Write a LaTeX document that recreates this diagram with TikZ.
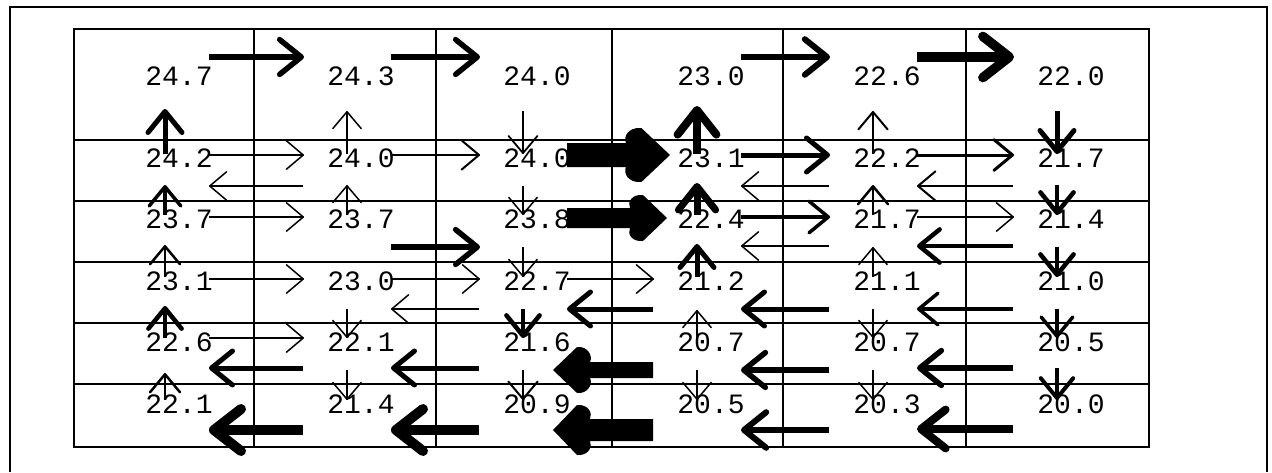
\documentclass[tikz,border=0pt]{standalone}
\usepackage{fontspec}
\setmonofont{Liberation Mono}
\usetikzlibrary{arrows.meta,calc}
% R: row, left col, right col, dy, width
\newcommand\ArR[5]{\draw[arw=#5] ($(L-#1-#2)+(30,#4)$) -- ($(L-#1-#3)+(-57,#4)$);}
\newcommand\ArL[5]{\draw[arw=#5] ($(L-#1-#3)+(-58,#4)$) -- ($(L-#1-#2)+(30,#4)$);}
% U/D: upper row, lower row, col, width, top offset
\newcommand\ArU[5]{\draw[arw=#4] ($(L-#2-#3)+(-14,-4)$) -- ($(L-#1-#3)+(-14,#5)$);}
\newcommand\ArD[5]{\draw[arw=#4] ($(L-#1-#3)+(-14,#5)$) -- ($(L-#2-#3)+(-14,-4)$);}
% big filled arrow: tip position, rotation, shaft half width, head half height, head length, total length
\newcommand\ArBig[6]{%
  \begin{scope}[shift={#1},rotate=#2]
    \fill[black] (0,0) -- (-0.65*#5,-#4)
      .. controls (-#5+2,-#4-1) and (-#5-3,-#3-6) .. (-#5,-#3)
      -- (-#6,-#3) -- (-#6,#3) -- (-#5,#3)
      .. controls (-#5-3,#3+6) and (-#5+2,#4+1) .. (-0.65*#5,#4) -- cycle;
  \end{scope}}
\begin{document}
\begin{tikzpicture}[x=1pt,y=-1pt,
  lab/.style={font=\ttfamily\fontsize{28}{28}\selectfont, inner sep=0pt},
  gridline/.style={line width=2pt},
  arw/.style={line width=#1pt, -{Straight Barb[length=15pt 1.2, width=26pt 1.6, round]}},
]
\useasboundingbox (0,0) rectangle (1272,472);
% outer frame
\draw[line width=1.5pt] (10,472) -- (10,7) -- (1267,7) -- (1267,472);
% grid
\draw[gridline] (74,29) rectangle (1149,447);
\foreach \x in {254,436,612,783,966} \draw[gridline] (\x,29) -- (\x,447);
\foreach \y in {140,201,262,323,384} \draw[gridline] (74,\y) -- (1149,\y);
% labels
\foreach \y/\r/\a/\b/\cc/\d/\e/\f in {
  76/0/24.7/24.3/24.0/23.0/22.6/22.0,
  158/1/24.2/24.0/24.0/23.1/22.2/21.7,
  219/2/23.7/23.7/23.8/22.4/21.7/21.4,
  281/3/23.1/23.0/22.7/21.2/21.1/21.0,
  342/4/22.6/22.1/21.6/20.7/20.7/20.5,
  404/5/22.1/21.4/20.9/20.5/20.3/20.0}{
  \node[lab] (L-\r-0) at (179,\y) {\a};
  \node[lab] (L-\r-1) at (361,\y) {\b};
  \node[lab] (L-\r-2) at (537,\y) {\cc};
  \node[lab] (L-\r-3) at (711,\y) {\d};
  \node[lab] (L-\r-4) at (887,\y) {\e};
  \node[lab] (L-\r-5) at (1071,\y) {\f};
}
% row 0
\ArR{0}{0}{1}{-19}{5.5}
\ArR{0}{1}{2}{-19}{5.5}
\ArR{0}{3}{4}{-19}{6}
\ArR{0}{4}{5}{-19}{9.5}
% gap 0
\ArU{0}{1}{0}{5}{33}
\ArU{0}{1}{1}{1.5}{35}
\ArD{0}{1}{2}{1.8}{35}
\ArU{0}{1}{3}{8}{30}
\ArU{0}{1}{4}{2}{35}
\ArD{0}{1}{5}{5}{35}
% row 1
\ArR{1}{0}{1}{-3}{1.5}
\ArR{1}{1}{2}{-3}{2}
\ArBig{($(L-1-3)+(-41,-3)$)}{0}{12}{27}{44}{103}
\ArR{1}{3}{4}{-3}{5}
\ArR{1}{4}{5}{-3}{3}
\ArL{1}{0}{1}{28}{1.5}
\ArL{1}{3}{4}{28}{1.5}
\ArL{1}{4}{5}{28}{2}
% gap 1
\ArU{1}{2}{0}{3.5}{27}
\ArU{1}{2}{1}{1.5}{27}
\ArD{1}{2}{2}{1.5}{28}
\ArU{1}{2}{3}{7}{25}
\ArU{1}{2}{4}{2.5}{27}
\ArD{1}{2}{5}{4.5}{27}
% row 2
\ArR{2}{0}{1}{-2}{1.5}
\ArR{2}{1}{2}{28}{5.5}
\ArBig{($(L-2-3)+(-44,-1)$)}{0}{10}{23}{37}{100}
\ArR{2}{3}{4}{-2}{3.5}
\ArR{2}{4}{5}{-2}{1.5}
\ArL{2}{3}{4}{27}{1.5}
\ArL{2}{4}{5}{27}{4.5}
% gap 2
\ArU{2}{3}{0}{2.5}{26}
\ArD{2}{3}{2}{1.5}{28}
\ArU{2}{3}{3}{5}{25}
\ArU{2}{3}{4}{1.5}{28}
\ArD{2}{3}{5}{4.5}{28}
% row 3
\ArR{3}{0}{1}{-2}{1.5}
\ArR{3}{1}{2}{-2}{1.5}
\ArR{3}{2}{3}{-2}{1.5}
\ArL{3}{1}{2}{28}{1.5}
\ArL{3}{2}{3}{28}{5}
\ArL{3}{3}{4}{28}{5}
\ArL{3}{4}{5}{28}{3.5}
% gap 3
\ArU{3}{4}{0}{4.5}{25}
\ArD{3}{4}{1}{1.5}{28}
\ArD{3}{4}{2}{4.5}{28}
\ArU{3}{4}{3}{1.5}{29}
\ArD{3}{4}{4}{1.5}{28}
\ArD{3}{4}{5}{3.5}{28}
% row 4
\ArR{4}{0}{1}{-4}{1.5}
\ArL{4}{0}{1}{26}{5}
\ArL{4}{1}{2}{26}{5}
\ArBig{($(L-4-2)+(16,28)$)}{180}{8}{23}{37}{100}
\ArL{4}{3}{4}{28}{5.5}
\ArL{4}{4}{5}{26}{5.5}
% gap 4
\ArU{4}{5}{0}{2.5}{31}
\ArD{4}{5}{1}{1.5}{28}
\ArD{4}{5}{2}{2}{28}
\ArD{4}{5}{3}{1.5}{28}
\ArD{4}{5}{4}{1.5}{28}
\ArD{4}{5}{5}{4}{26}
% row 5
\ArL{5}{0}{1}{26}{10}
\ArL{5}{1}{2}{26}{10}
\ArBig{($(L-5-2)+(16,26)$)}{180}{11}{25}{37}{100}
\ArL{5}{3}{4}{26}{6}
\ArL{5}{4}{5}{25}{8}
\end{tikzpicture}
\end{document}
